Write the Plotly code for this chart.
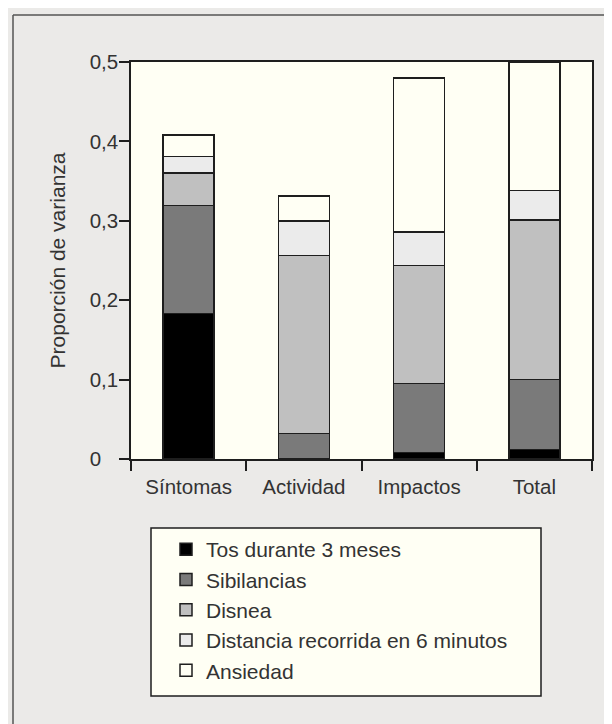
import plotly.graph_objects as go

categories = ["Síntomas", "Actividad", "Impactos", "Total"]
series_names = ["Tos durante 3 meses", "Sibilancias", "Disnea",
                "Distancia recorrida en 6 minutos", "Ansiedad"]
tos = [0.183, 0.0, 0.008, 0.012]
sibilancias = [0.136, 0.032, 0.087, 0.088]
disnea = [0.041, 0.224, 0.149, 0.201]
distancia = [0.021, 0.044, 0.042, 0.037]
ansiedad = [0.027, 0.031, 0.194, 0.162]
series_values = [tos, sibilancias, disnea, distancia, ansiedad]
series_colors = ["#000000", "#7a7a7a", "#c0c0c0", "#ebebeb", "#fffff4"]

y_tickvals = [0, 0.1, 0.2, 0.3, 0.4, 0.5]
y_ticktext = ["0", "0,1", "0,2", "0,3", "0,4", "0,5"]

W, H = 612, 724
L, R, T, B = 123, 584, 54, 451
TXT = "#333333"
FONT = "Liberation Sans, Arial, sans-serif"


def px(x):
    return (x - L) / (R - L)


def py(y):
    return (B - y) / (B - T)


fig = go.Figure()
for name, vals, col in zip(series_names, series_values, series_colors):
    fig.add_trace(go.Bar(
        x=categories, y=vals, name=name,
        marker=dict(color=col, line=dict(color="#1e1e1e", width=1.5)),
    ))

# pad "0" so it lines up on the left like the other labels
pad_text = [t if len(t) > 1 else t + "\u00a0\u00a0\u00a0" for t in y_ticktext]

fig.update_layout(
    width=W, height=H,
    margin=dict(l=L, r=W - R, t=T, b=H - B, pad=0),
    barmode="stack", bargap=0.558,
    paper_bgcolor="#ebeae8", plot_bgcolor="#fffff4",
    font=dict(family=FONT, size=20.5, color=TXT),
    showlegend=True,
    legend=dict(
        x=px(158), y=py(521), xanchor="left", yanchor="top",
        bgcolor="rgba(0,0,0,0)", borderwidth=0,
        traceorder="normal", font=dict(size=21, color=TXT),
        tracegroupgap=0,
    ),
    xaxis=dict(
        type="category", tickson="boundaries", ticks="outside", ticklen=10,
        tickcolor="#1e1e1e", tickwidth=1.5, ticklabelstandoff=9,
        showline=True, linecolor="#1e1e1e", linewidth=1.5, mirror=True,
        showgrid=False, tickfont=dict(size=20.5, color=TXT),
    ),
    yaxis=dict(
        range=[0, 0.5], tickvals=y_tickvals, ticktext=pad_text,
        ticks="outside", ticklen=10, tickcolor="#1e1e1e", tickwidth=1.5,
        ticklabelstandoff=-3,
        showline=True, linecolor="#1e1e1e", linewidth=1.5, mirror=True,
        showgrid=False, zeroline=False,
        tickfont=dict(size=20.5, color=TXT),
        title=dict(text="Proporción de varianza", standoff=18,
                   font=dict(size=21, color=TXT)),
    ),
    shapes=[
        # outer frame (top and left edges visible)
        dict(type="line", xref="paper", yref="paper",
             x0=px(5), x1=px(640), y0=py(7), y1=py(7),
             line=dict(color="#555555", width=1.5)),
        dict(type="line", xref="paper", yref="paper",
             x0=px(5), x1=px(5), y0=py(7), y1=py(760),
             line=dict(color="#555555", width=1.5)),
        # legend box
        dict(type="rect", xref="paper", yref="paper", layer="below",
             x0=px(143), x1=px(533), y0=py(688), y1=py(520),
             fillcolor="#fffff4", line=dict(color="#1e1e1e", width=1.5)),
    ],
)

fig.write_html("out.html")
